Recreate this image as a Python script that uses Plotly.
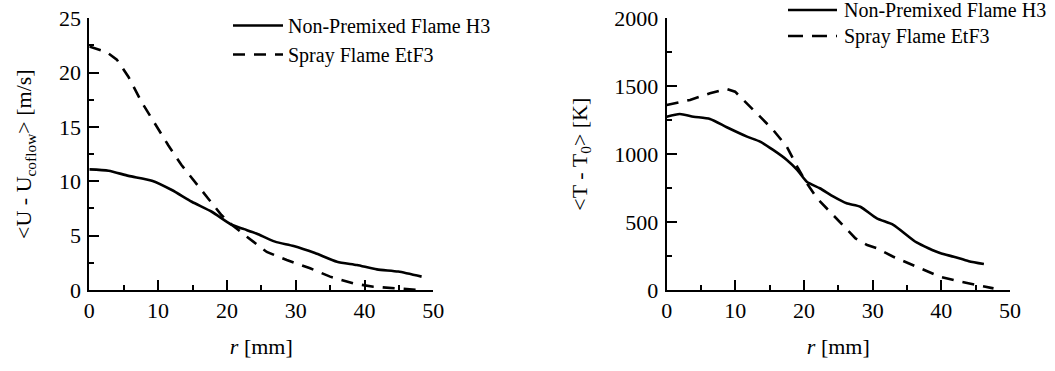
import plotly.graph_objects as go

# Radial profiles: mean axial velocity excess (left) and mean temperature rise (right)
r_u_h3 = [0, 2.8, 5.7, 9.1, 12.0, 14.9, 17.8, 20.7, 22.5, 24.3, 27.0, 29.7, 32.8, 36.0, 38.9, 41.8, 44.9, 48.3]
u_h3 = [11.1, 10.98, 10.5, 10.06, 9.2, 8.12, 7.2, 6.0, 5.6, 5.2, 4.45, 4.05, 3.4, 2.6, 2.3, 1.9, 1.7, 1.23]

r_u_etf3 = [0, 2.5, 4.0, 5.7, 7.6, 9.5, 11.5, 13.4, 15.4, 17.3, 19.2, 20.7, 22.9, 25.8, 28.7, 32.1, 35.0, 38.4, 41.3, 44.7, 48.0]
u_etf3 = [22.4, 21.9, 21.2, 19.6, 17.3, 15.3, 13.3, 11.5, 9.96, 8.4, 6.9, 6.0, 4.9, 3.5, 2.76, 2.0, 1.23, 0.6, 0.3, 0.12, 0.0]

r_t_h3 = [0, 1.9, 3.9, 6.3, 8.75, 11.7, 13.6, 15.5, 17.5, 19.0, 20.4, 22.3, 24.3, 26.2, 28.2, 30.6, 33.0, 36.4, 39.8, 41.8, 44.0, 46.2]
t_h3 = [1276, 1296, 1276, 1259, 1198, 1129, 1092, 1031, 957, 884, 797, 749, 687, 638, 613, 528, 480, 350, 272, 245, 212, 191]

r_t_etf3 = [0, 3.4, 6.3, 8.75, 9.96, 11.7, 13.6, 15.5, 17.5, 19.0, 20.4, 21.9, 23.8, 25.7, 27.5, 29.2, 30.6, 33.0, 36.9, 39.8, 42.8, 45.7, 47.6]
t_etf3 = [1362, 1399, 1448, 1480, 1460, 1375, 1276, 1178, 1055, 908, 786, 675, 577, 479, 380, 331, 307, 245, 160, 98, 61, 29, 12]

series_names = ["Non-Premixed Flame H3", "Spray Flame EtF3"]

LW = 2.6
DASH = "12px,9px"


def font(size, family="Liberation Serif"):
    return dict(family=family, size=size, color="black")


fig = go.Figure()

# left panel: velocity (entries shown in the built-in legend)
fig.add_trace(go.Scatter(x=r_u_h3, y=u_h3, mode="lines", name=series_names[0],
                         line=dict(color="black", width=LW, shape="spline", smoothing=0.6),
                         xaxis="x", yaxis="y"))
fig.add_trace(go.Scatter(x=r_u_etf3, y=u_etf3, mode="lines", name=series_names[1],
                         line=dict(color="black", width=LW, dash=DASH),
                         xaxis="x", yaxis="y"))
# right panel: temperature (its key is drawn beside the panel below)
fig.add_trace(go.Scatter(x=r_t_h3, y=t_h3, mode="lines", name=series_names[0], showlegend=False,
                         line=dict(color="black", width=LW, shape="spline", smoothing=0.6),
                         xaxis="x2", yaxis="y2"))
fig.add_trace(go.Scatter(x=r_t_etf3, y=t_etf3, mode="lines", name=series_names[1], showlegend=False,
                         line=dict(color="black", width=LW, dash=DASH),
                         xaxis="x2", yaxis="y2"))

W, H = 1055, 371
y_dom = [(H - 290) / H, (H - 18.3) / H]

common_x = dict(range=[0, 50], dtick=10, tick0=0, showline=True, linecolor="black", linewidth=2,
                ticks="inside", ticklen=10, tickwidth=2, tickcolor="black",
                minor=dict(ticks="inside", ticklen=5, tickwidth=2, dtick=5, tickcolor="black"),
                showgrid=False, zeroline=False, automargin=False,
                tickfont=font(22, "Times New Roman"),
                title=dict(text="<i>r</i> [mm]", font=font(22), standoff=16))
common_y = dict(showline=True, linecolor="black", linewidth=2,
                ticks="inside", ticklen=10, tickwidth=2, tickcolor="black",
                showgrid=False, zeroline=False, automargin=False,
                tickfont=font(22, "Times New Roman"), ticklabelstandoff=2)

# key for the right panel
key_x0, key_x1, key_tx = 788 / W, 837 / W, 842 / W
key_rows = [1 - 10 / H, 1 - 36 / H]
key_dash = ["solid", "15px,9px"]
shapes = [dict(type="line", xref="paper", yref="paper", x0=key_x0, x1=key_x1, y0=yy, y1=yy,
               line=dict(color="black", width=LW, dash=dd))
          for yy, dd in zip(key_rows, key_dash)]
annotations = [dict(text=nm, xref="paper", yref="paper", x=key_tx, y=yy, xanchor="left",
                    yanchor="middle", showarrow=False, font=font(20, "serif"))
               for nm, yy in zip(series_names, key_rows)]

fig.update_layout(
    width=W, height=H,
    margin=dict(l=0, r=0, t=0, b=0, autoexpand=False),
    paper_bgcolor="white", plot_bgcolor="white",
    xaxis=dict(domain=[89.3 / W, 433.3 / W], anchor="y", **common_x),
    yaxis=dict(domain=y_dom, anchor="x", range=[0, 25], dtick=5,
               minor=dict(ticks="inside", ticklen=5, tickwidth=2, dtick=2.5, tickcolor="black"),
               title=dict(text="&lt;U - U<sub>coflow</sub>&gt; [m/s]", font=font(22), standoff=21),
               **common_y),
    xaxis2=dict(domain=[666.7 / W, 1010 / W], anchor="y2", **common_x),
    yaxis2=dict(domain=y_dom, anchor="x2", range=[0, 2000], dtick=500,
                minor=dict(ticks="inside", ticklen=5, tickwidth=2, dtick=250, tickcolor="black"),
                title=dict(text="&lt;T - T<sub>0</sub>&gt; [K]", font=font(22), standoff=21),
                **common_y),
    legend=dict(x=228 / W, y=1 - 6 / H, xanchor="left", yanchor="top",
                bgcolor="rgba(0,0,0,0)", font=font(20, "serif"), itemwidth=50, tracegroupgap=0),
    shapes=shapes,
    annotations=annotations,
    showlegend=True,
)

fig.write_html("out.html")
